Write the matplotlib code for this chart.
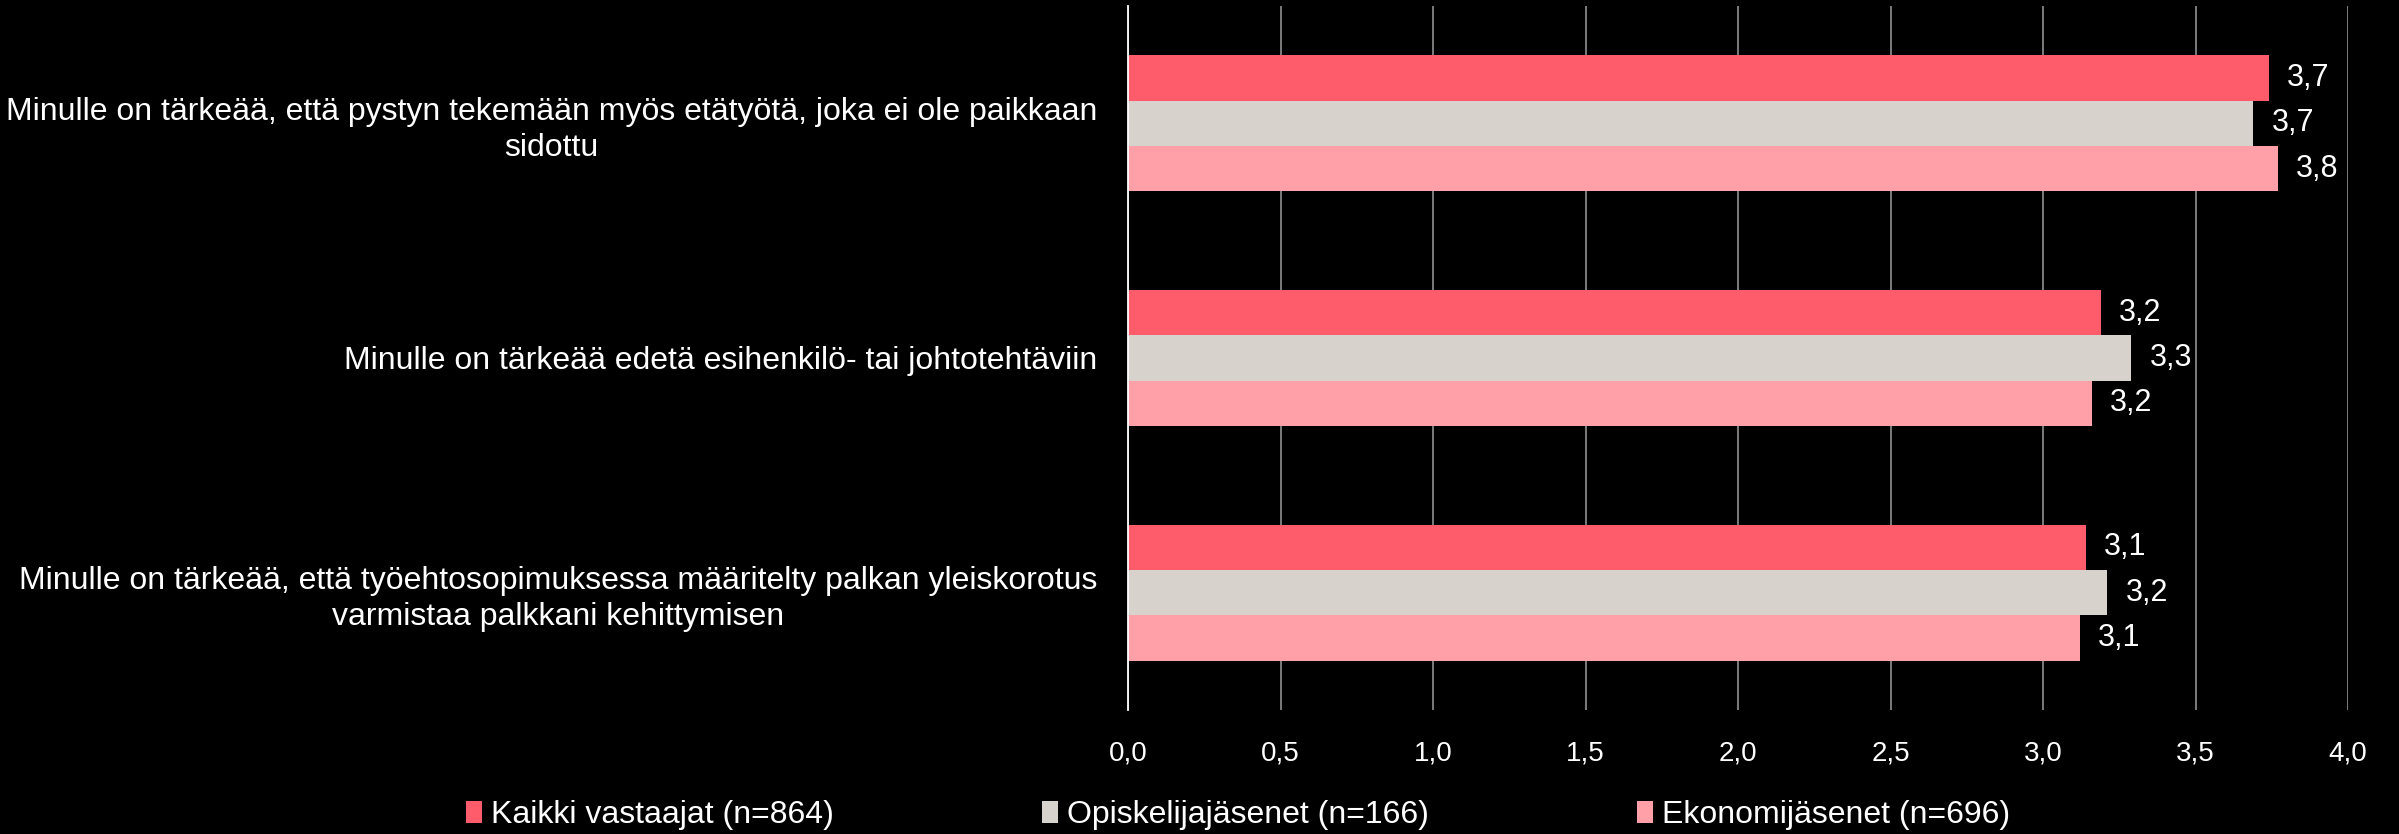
import matplotlib.pyplot as plt
import numpy as np

plt.rcParams['font.family'] = ['Liberation Sans', 'DejaVu Sans']

# ----- data -----
categories = [
    'Minulle on tärkeää, että pystyn tekemään myös etätyötä, joka ei ole paikkaan\nsidottu',
    'Minulle on tärkeää edetä esihenkilö- tai johtotehtäviin',
    'Minulle on tärkeää, että työehtosopimuksessa määritelty palkan yleiskorotus\nvarmistaa palkkani kehittymisen',
]
series_names = ['Kaikki vastaajat (n=864)', 'Opiskelijajäsenet (n=166)', 'Ekonomijäsenet (n=696)']
kaikki = [3.74, 3.19, 3.14]
opiskelijat = [3.69, 3.29, 3.21]
ekonomit = [3.77, 3.16, 3.12]
xticks = [0.0, 0.5, 1.0, 1.5, 2.0, 2.5, 3.0, 3.5, 4.0]

colors = ['#FF5C6B', '#D7D2CB', '#FFA0A8']

W, H = 2399, 834
fig = plt.figure(figsize=(W / 100, H / 100), dpi=100, facecolor='black')
ax = fig.add_axes([1128 / W, 1 - 710 / H, (2348 - 1128) / W, (710 - 6) / H])
ax.set_facecolor('black')

y = np.arange(len(categories))
bar_h = 0.193
for i, (vals, name, col) in enumerate(zip([kaikki, opiskelijat, ekonomit], series_names, colors)):
    pos = y + (i - 1) * bar_h
    bars = ax.barh(pos, vals, height=bar_h, color=col, label=name, zorder=3)
    for b, v in zip(bars, vals):
        ax.text(v + 0.06, b.get_y() + b.get_height() / 2, f'{v:.1f}'.replace('.', ','),
                color='white', fontsize=22, va='center', ha='left', zorder=4)

ax.set_ylim(2.5, -0.5)
ax.set_xlim(0, 4)
ax.set_xticks(xticks)
ax.set_xticklabels([f'{t:.1f}'.replace('.', ',') for t in xticks], color='white', fontsize=20)
ax.set_yticks(y)
ax.set_yticklabels(categories, color='white', fontsize=23, linespacing=1.25)
for lab in ax.get_yticklabels():
    lab.set_multialignment('center')
ax.tick_params(axis='both', length=0)
ax.tick_params(axis='y', pad=22)
ax.tick_params(axis='x', pad=22)

ax.grid(axis='x', color='#868686', linewidth=1.3, zorder=0)
for s in ['top', 'right', 'bottom']:
    ax.spines[s].set_visible(False)
ax.spines['left'].set_color('white')
ax.spines['left'].set_linewidth(1.3)
ax.spines['left'].set_zorder(5)

leg = fig.legend(loc='center', bbox_to_anchor=(1238 / W, 1 - 815 / H), ncol=3,
                 frameon=False, fontsize=23, labelcolor='white',
                 handlelength=0.5, handleheight=0.7, handletextpad=0.3,
                 columnspacing=6.5)

fig.savefig('out.png', dpi=100, facecolor='black')
